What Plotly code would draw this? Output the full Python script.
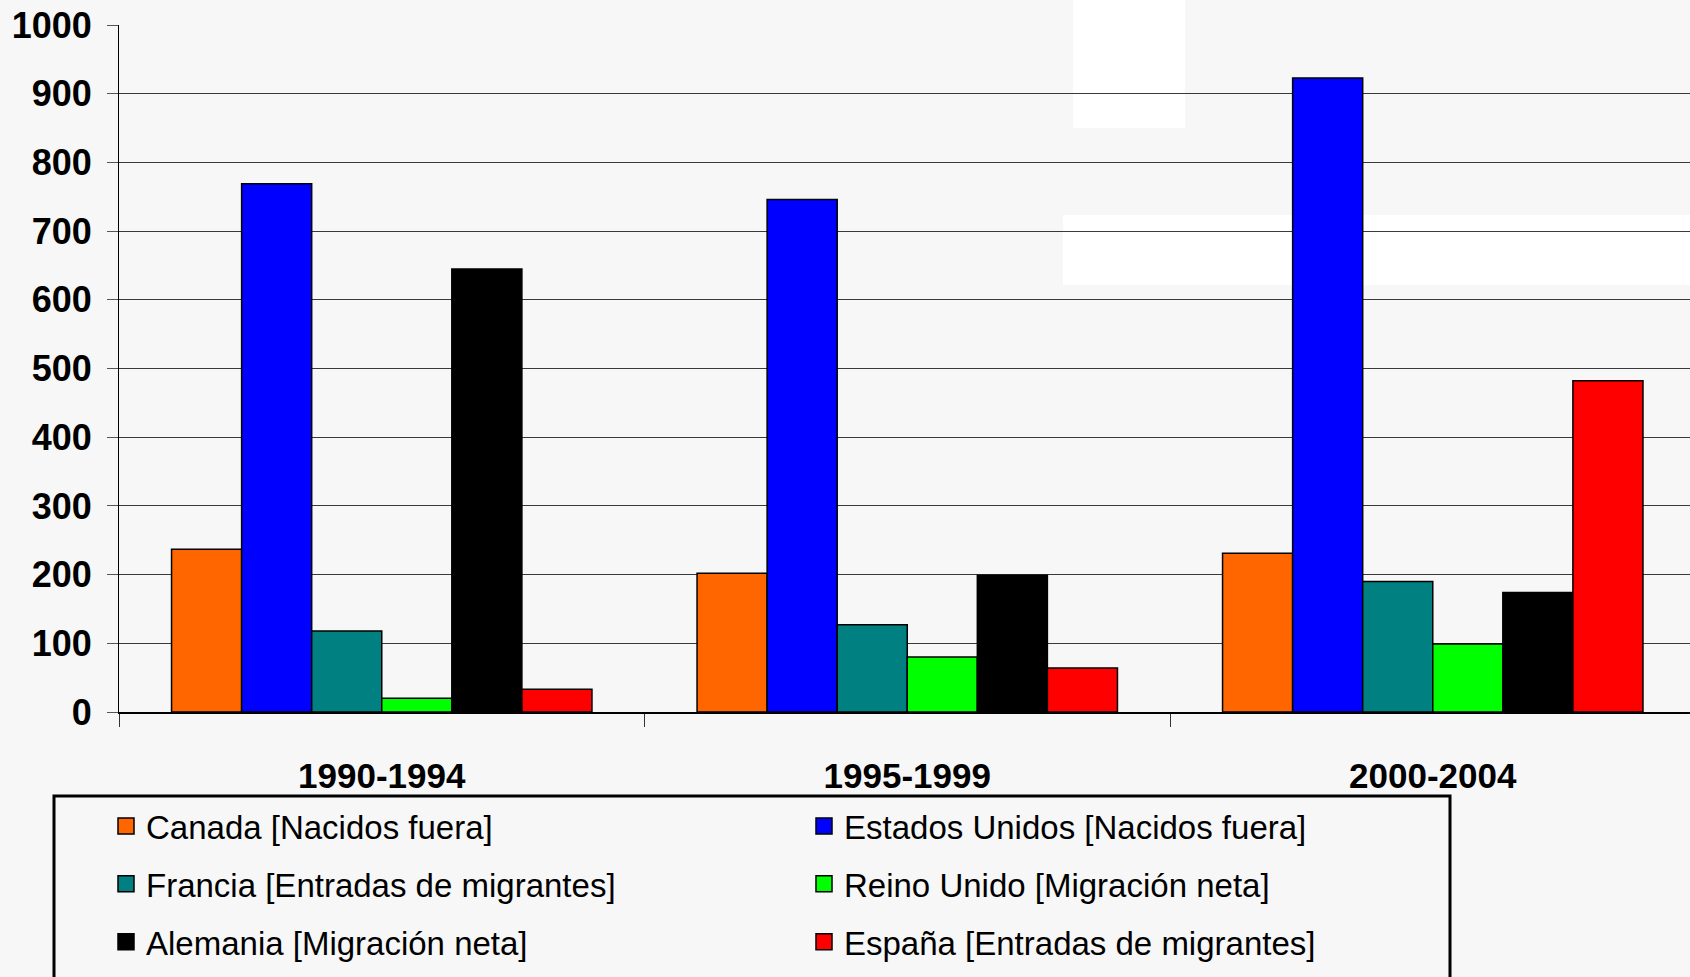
import plotly.graph_objects as go

periods = ["1990-1994", "1995-1999", "2000-2004"]

canada = [237, 202, 231]
estados_unidos = [769, 746, 923]
francia = [118, 127, 190]
reino_unido = [20, 80, 99]
alemania = [645, 199, 174]
espana = [33, 64, 482]

series = [
    ("Canada [Nacidos fuera]", canada, "#FF6600", "legend"),
    ("Estados Unidos [Nacidos fuera]", estados_unidos, "#0000FF", "legend2"),
    ("Francia [Entradas de migrantes]", francia, "#008080", "legend"),
    ("Reino Unido [Migración neta]", reino_unido, "#00FF00", "legend2"),
    ("Alemania [Migración neta]", alemania, "#000000", "legend"),
    ("España [Entradas de migrantes]", espana, "#FF0000", "legend2"),
]

W, H = 1690, 977
L, T, B = 119, 25, 265
FONT = "Liberation Sans, Arial, sans-serif"


def px_x(p):
    return (p - L) / (W - L)


def px_y(p):
    return (H - B - p) / (H - B - T)


fig = go.Figure()
for name, vals, color, leg in series:
    fig.add_trace(go.Bar(
        x=periods, y=vals, name=name, showlegend=False, legendgroup=name,
        marker=dict(color=color, line=dict(color="black", width=1.5)),
    ))
    # legend entry with a bigger square swatch than the bar default
    fig.add_trace(go.Scatter(
        x=[None], y=[None], mode="markers", name=name, legend=leg, legendgroup=name,
        marker=dict(symbol="square", size=16, color=color, line=dict(color="black", width=1.5)),
    ))

# faint watermark shapes behind the plot
shapes = [
    dict(type="rect", xref="paper", yref="paper", layer="below",
         x0=px_x(1073), x1=px_x(1185), y0=px_y(128), y1=px_y(0),
         fillcolor="white", line_width=0),
    dict(type="rect", xref="paper", yref="paper", layer="below",
         x0=px_x(1063), x1=px_x(1700), y0=px_y(285), y1=px_y(215),
         fillcolor="white", line_width=0),
    # legend box
    dict(type="rect", xref="paper", yref="paper",
         x0=px_x(54), x1=px_x(1450), y0=px_y(1000), y1=px_y(796),
         fillcolor="rgba(0,0,0,0)", line=dict(color="black", width=3)),
]

fig.update_layout(
    width=W, height=H,
    margin=dict(l=L, r=0, t=T, b=B),
    paper_bgcolor="#F7F7F7", plot_bgcolor="rgba(0,0,0,0)",
    barmode="group", bargap=0.2, bargroupgap=0,
    font=dict(family=FONT, color="black"),
    shapes=shapes,
    xaxis=dict(
        range=[-0.5, 2.4895], showgrid=False, zeroline=False,
        showline=True, linecolor="black", linewidth=1.5,
        ticks="outside", tickson="boundaries", ticklen=13, tickcolor="#333",
        tickfont=dict(size=35, family=FONT, weight="bold"),
        ticklabelstandoff=32,
    ),
    yaxis=dict(
        range=[0, 1000], dtick=100, showgrid=True, gridcolor="#3a3a3a", gridwidth=1,
        zeroline=False, showline=True, linecolor="black", linewidth=1,
        ticks="outside", ticklen=11, tickcolor="#555",
        tickfont=dict(size=36, family=FONT, weight="bold"),
        ticklabelstandoff=8,
    ),
    legend=dict(
        x=px_x(106), y=px_y(798), xanchor="left", yanchor="top",
        orientation="v", bgcolor="rgba(0,0,0,0)", borderwidth=0,
        font=dict(size=33, family=FONT), tracegroupgap=12, itemsizing="trace",
    ),
    legend2=dict(
        x=px_x(804), y=px_y(798), xanchor="left", yanchor="top",
        orientation="v", bgcolor="rgba(0,0,0,0)", borderwidth=0,
        font=dict(size=33, family=FONT), tracegroupgap=12, itemsizing="trace",
    ),
)

fig.write_html("out.html", config={"displayModeBar": False},
               post_script="document.body.style.margin='0';")
